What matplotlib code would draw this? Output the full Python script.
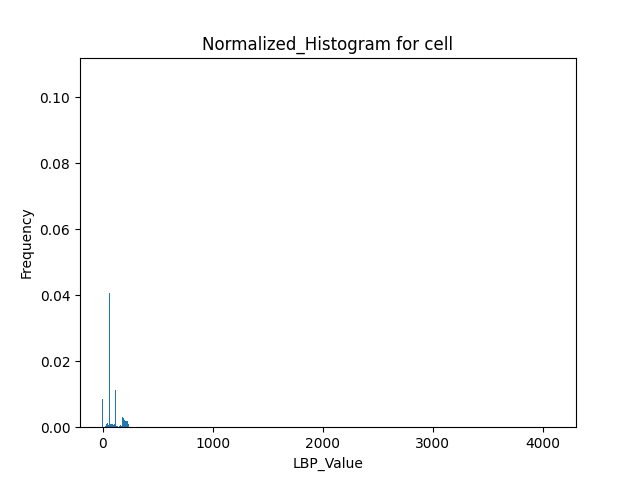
import numpy as np
import matplotlib.pyplot as plt

# LBP values with a non-zero normalized count
lbp_values = [0, 1, 2, 30, 36, 42, 48, 55, 61, 66, 72, 78, 86, 92, 98, 104, 110,
              121, 128, 140, 150, 160, 170, 180, 182, 185, 188, 193, 197, 203,
              209, 215, 222, 228, 234]
frequencies = [0.0086, 0.0030, 0.0010, 0.0004, 0.0010, 0.0012, 0.0010, 0.0008,
               0.0408, 0.0012, 0.0010, 0.0010, 0.0008, 0.0009, 0.0008, 0.0007,
               0.0009, 0.0112, 0.0005, 0.0004, 0.0005, 0.0006, 0.0005, 0.0010,
               0.0032, 0.0025, 0.0029, 0.0024, 0.0020, 0.0021, 0.0019, 0.0020,
               0.0012, 0.0018, 0.0010]
n_bins = 4096

plt.bar(lbp_values, frequencies, width=9, linewidth=0)
plt.xlim(-0.05 * n_bins, 1.05 * n_bins)
plt.ylim(0, 0.112)
plt.title("Normalized_Histogram for cell")
plt.xlabel("LBP_Value")
plt.ylabel("Frequency")
plt.savefig("out.png")
